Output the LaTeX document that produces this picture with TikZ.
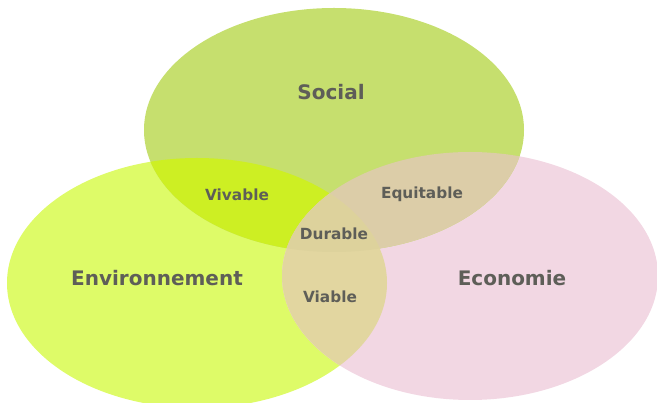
\documentclass[tikz,border=0pt]{standalone}
\usepackage{fontspec}
\setmainfont{DejaVu Sans}
\usepackage{tikz}
\usetikzlibrary{positioning}

\definecolor{socialfill}{HTML}{C6DF6E}
\definecolor{envfill}{HTML}{DEFB68}
\definecolor{ecofill}{HTML}{F2D7E3}
\definecolor{vivfill}{HTML}{CDEF23}
\definecolor{equfill}{HTML}{DCCDA8}
\definecolor{viafill}{HTML}{E2D6A0}
\definecolor{durfill}{HTML}{DDD29C}
\definecolor{labelgray}{HTML}{5E5E58}

\tikzset{
  biglabel/.style={font=\fontsize{15}{18}\selectfont\bfseries, text=labelgray, inner sep=0pt},
  smalllabel/.style={font=\fontsize{11.5}{14}\selectfont\bfseries, text=labelgray, inner sep=0pt}
}

\def\socialshape{(334,273) ellipse (190 and 122)}
\def\envshape{(197,120) ellipse (190 and 125)}
\def\ecoshape{(470,127) ellipse (188 and 124)}

\begin{document}
\begin{tikzpicture}[x=0.75pt, y=0.75pt]
            \useasboundingbox (0,0) rectangle (657,403);
            % three circles
            \fill[envfill] \envshape;
            \fill[ecofill] \ecoshape;
            \fill[socialfill] \socialshape;
            % overlaps
            \begin{scope}
                \clip \socialshape;
                \fill[vivfill] \envshape;
                \fill[equfill] \ecoshape;
            \end{scope}
            \begin{scope}
                \clip \envshape;
                \fill[viafill] \ecoshape;
                \clip \ecoshape;
                \fill[durfill] \socialshape;
            \end{scope}
            % labels
            \node[biglabel] (social) at (331,311) {Social};
            \node[biglabel] (env) at (157,125) {Environnement};
            \node[biglabel] (eco) at (512,125) {Economie};
            \node[smalllabel] (vivable) at (237,208) {Vivable};
            \node[smalllabel] (equitable) at (422,209) {Equitable};
            \node[smalllabel] (durable) at (334,169) {Durable};
            \node[smalllabel] (viable) at (330,106) {Viable};
\end{tikzpicture}
\end{document}
